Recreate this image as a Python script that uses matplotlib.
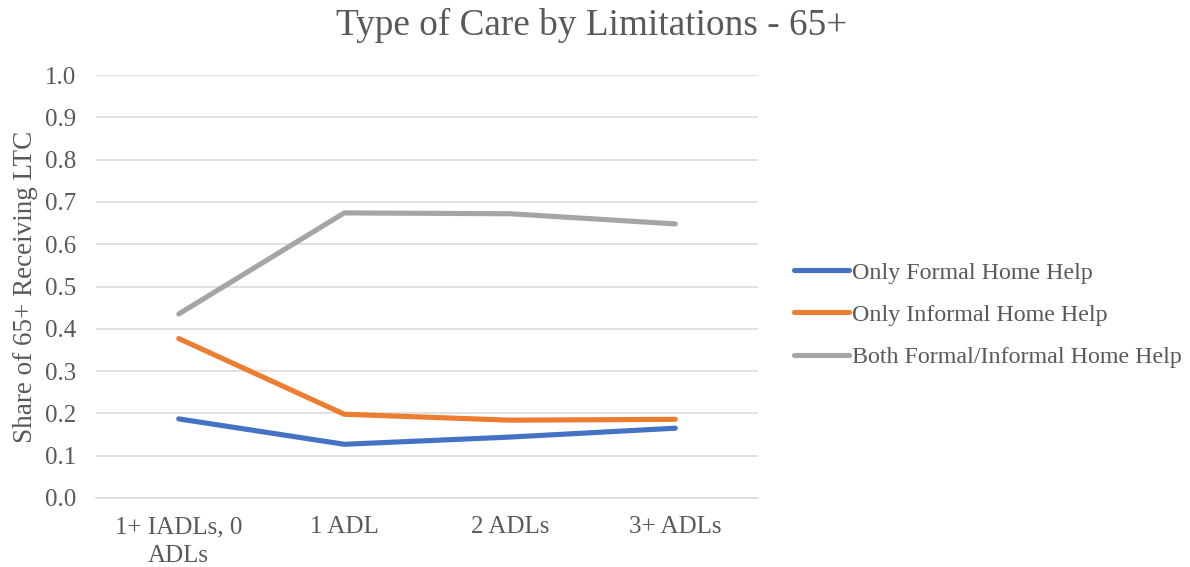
import matplotlib
matplotlib.use("Agg")
import matplotlib.pyplot as plt

categories = ["1+ IADLs, 0\nADLs", "1 ADL", "2 ADLs", "3+ ADLs"]
formal_only = [0.187, 0.127, 0.144, 0.165]
informal_only = [0.377, 0.198, 0.184, 0.186]
both = [0.435, 0.674, 0.672, 0.648]
series_names = ["Only Formal Home Help", "Only Informal Home Help",
                "Both Formal/Informal Home Help"]
y_ticks = [0.0, 0.1, 0.2, 0.3, 0.4, 0.5, 0.6, 0.7, 0.8, 0.9, 1.0]

plt.rcParams["font.family"] = ["Liberation Serif", "DejaVu Serif"]
text_color = "#595959"
colors = ["#4472C4", "#ED7D31", "#A5A5A5"]

fig = plt.figure(figsize=(11.9, 5.67), dpi=100)
ax = fig.add_axes([96 / 1190, 1 - 498 / 567, 662 / 1190, 423 / 567])

x = list(range(len(categories)))
for vals, name, c in zip([formal_only, informal_only, both], series_names, colors):
    ax.plot(x, vals, color=c, lw=3.7, solid_capstyle="round",
            solid_joinstyle="round", label=name, zorder=3)

ax.set_xlim(-0.5, len(categories) - 0.5)
ax.set_ylim(0, 1.0)
ax.set_yticks(y_ticks)
ax.set_yticklabels([f"{v:.1f}" for v in y_ticks])
ax.set_xticks(x)
ax.set_xticklabels(categories, linespacing=1.4)
ax.tick_params(axis="both", length=0, colors=text_color, labelsize=18)
ax.tick_params(axis="y", pad=14.5)
ax.tick_params(axis="x", pad=13)
ax.grid(axis="y", color="#D9D9D9", lw=1.1, zorder=0)
for s in ["top", "right", "left"]:
    ax.spines[s].set_visible(False)
ax.spines["bottom"].set_color("#D9D9D9")
ax.spines["bottom"].set_linewidth(1.1)

ax.set_ylabel("Share of 65+ Receiving LTC", color=text_color, fontsize=19.5,
              labelpad=5)

fig.text(0.4975, 1 - 25 / 567, "Type of Care by Limitations - 65+",
         ha="center", va="center", fontsize=26.8, color=text_color)

leg = ax.legend(loc="center left", bbox_to_anchor=(1.021, 0.433), frameon=False,
                fontsize=17.3, handlelength=2.3, handletextpad=0.12,
                labelspacing=0.85, labelcolor=text_color)

fig.savefig("out.png", dpi=100, facecolor="white")
